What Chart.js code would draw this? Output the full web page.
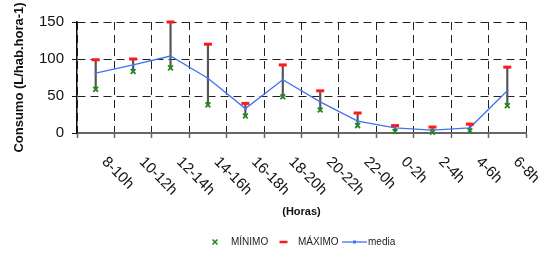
<!DOCTYPE html>
<html>
<head>
<meta charset="utf-8">
<title>Consumo por horas</title>
<script src="https://cdn.jsdelivr.net/npm/chart.js@4.4.0/dist/chart.umd.min.js"></script>
<style>
  html, body { margin: 0; padding: 0; background: #fff; }
  #wrap { width: 548px; height: 253px; position: relative; }
</style>
</head>
<body>
<div id="wrap"><canvas id="chart"></canvas></div>
<script>
// franjas horarias
const horas = ['8-10h', '10-12h', '12-14h', '14-16h', '16-18h', '18-20h',
               '20-22h', '22-0h', '0-2h', '2-4h', '4-6h', '6-8h'];
// valores (L/hab.hora-1)
const minimo = [59, 83, 88, 38, 23, 49, 31, 10, 2, 1, 3, 37];
const maximo = [99, 100, 150, 120, 40, 92, 57, 27, 10, 8, 12, 89];
const media  = [81, 92, 104, 74, 33, 72, 42, 16, 7, 4, 7, 57];
const yTicks = [0, 50, 100, 150];

const FONT = "'Liberation Sans', Arial, sans-serif";
const AZUL = '#4272f2';
const ROJO = '#ff1a1a';
const VERDE = '#1f8a1f';

// barras de error min-max
const rangos = minimo.map((v, i) => [v, maximo[i]]);

// etiquetas del eje x giradas 45 grados hacia abajo
const etiquetasX = {
  id: 'etiquetasX',
  afterDraw(chart) {
    const ctx = chart.ctx;
    const xs = chart.scales.x;
    const y0 = chart.chartArea.bottom + 29.5;
    ctx.save();
    ctx.font = '15px ' + FONT;
    ctx.fillStyle = '#111';
    ctx.textAlign = 'left';
    ctx.textBaseline = 'alphabetic';
    horas.forEach((h, i) => {
      const x = xs.getPixelForValue(i) + 5.5;
      ctx.save();
      ctx.translate(x, y0);
      ctx.rotate(Math.PI / 4);
      ctx.fillText(h, 0, 0);
      ctx.restore();
    });
    ctx.restore();
  }
};

// leyenda
const leyenda = {
  id: 'leyenda',
  afterDraw(chart) {
    const ctx = chart.ctx;
    const y = 242;
    ctx.save();
    ctx.font = '10px ' + FONT;
    ctx.fillStyle = '#222';
    ctx.textBaseline = 'middle';
    ctx.textAlign = 'left';

    // MINIMO
    ctx.strokeStyle = VERDE;
    ctx.lineWidth = 1.6;
    ctx.beginPath();
    ctx.moveTo(212.5, y - 2.5); ctx.lineTo(217.5, y + 2.5);
    ctx.moveTo(217.5, y - 2.5); ctx.lineTo(212.5, y + 2.5);
    ctx.stroke();
    ctx.fillText('MÍNIMO', 231, y);

    // MAXIMO
    ctx.strokeStyle = ROJO;
    ctx.lineWidth = 2.5;
    ctx.beginPath();
    ctx.moveTo(279.5, y); ctx.lineTo(287.5, y);
    ctx.stroke();
    ctx.fillText('MÁXIMO', 298, y);

    // media
    ctx.strokeStyle = AZUL;
    ctx.lineWidth = 1.3;
    ctx.beginPath();
    ctx.moveTo(342, y); ctx.lineTo(367, y);
    ctx.stroke();
    ctx.fillStyle = AZUL;
    ctx.fillRect(353, y - 1.5, 3, 3);
    ctx.fillStyle = '#222';
    ctx.fillText('media', 368, y);
    ctx.restore();
  }
};

new Chart(document.getElementById('chart'), {
  type: 'line',
  data: {
    labels: horas,
    datasets: [
      {
        label: 'MÍNIMO',
        data: minimo,
        showLine: false,
        pointStyle: 'crossRot',
        pointRadius: 3.4,
        pointBorderWidth: 1.8,
        borderColor: VERDE,
        backgroundColor: VERDE,
        clip: false,
        order: 1
      },
      {
        label: 'MÁXIMO',
        data: maximo,
        showLine: false,
        pointStyle: 'line',
        pointRadius: 4,
        pointBorderWidth: 3,
        borderColor: ROJO,
        backgroundColor: ROJO,
        clip: false,
        order: 2
      },
      {
        label: 'media',
        data: media,
        borderColor: AZUL,
        backgroundColor: AZUL,
        borderWidth: 1.3,
        pointStyle: 'rect',
        pointRadius: 1.6,
        pointBorderWidth: 0,
        tension: 0,
        order: 3
      },
      {
        type: 'bar',
        label: 'rango',
        data: rangos,
        backgroundColor: '#555',
        barThickness: 1.5,
        order: 4
      }
    ]
  },
  options: {
    responsive: true,
    maintainAspectRatio: false,
    animation: false,
    layout: { padding: { top: 22, right: 22, bottom: 30, left: 0 } },
    plugins: {
      legend: { display: false },
      tooltip: { enabled: false }
    },
    scales: {
      x: {
        offset: true,
        grid: {
          offset: true,
          color: '#222',
          lineWidth: 1,
          tickColor: '#666',
          tickLength: 5,
          tickWidth: 1.5
        },
        border: { color: '#666', width: 2, dash: [8, 5] },
        ticks: { display: false },
        title: {
          display: true,
          text: '(Horas)',
          color: '#111',
          font: { family: FONT, size: 11, weight: 'bold' },
          padding: { top: 0, bottom: 4.4 }
        },
        afterFit(scale) { scale.height = 90; }
      },
      y: {
        min: 0,
        max: 150,
        afterBuildTicks(scale) { scale.ticks = yTicks.map(v => ({ value: v })); },
        grid: {
          color: ctx => (ctx.tick && ctx.tick.value === 0 ? 'rgba(0,0,0,0)' : '#222'),
          lineWidth: 1,
          tickColor: '#111',
          tickLength: 5
        },
        border: { color: '#111', width: 1.5, dash: [8, 5] },
        ticks: {
          padding: 8,
          color: '#111',
          font: { family: FONT, size: 15 }
        },
        title: {
          display: true,
          text: 'Consumo (L/hab.hora-1)',
          color: '#111',
          font: { family: FONT, size: 13, weight: 'bold' },
          padding: { top: 12, bottom: 0 }
        },
        afterFit(scale) { scale.width = 77; }
      }
    }
  },
  plugins: [etiquetasX, leyenda]
});
</script>
</body>
</html>
